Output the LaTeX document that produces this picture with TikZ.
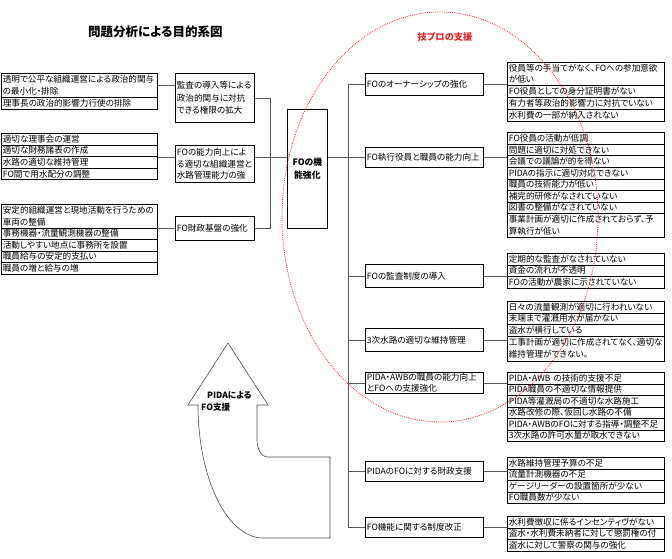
\documentclass[tikz,border=0pt]{standalone}
\usepackage{fontspec}
\setmainfont[RawFeature=+palt]{Noto Sans CJK JP}
\newcommand\boxfont{\fontsize{8.6}{11.6}\selectfont}
\definecolor{ellred}{HTML}{E8242A}
\tikzset{
  box/.style={draw=black, line width=0.7pt, anchor=north west, inner xsep=1.5pt, inner ysep=0pt, align=left, font=\boxfont},
  litem/.style={box, text width=153pt, minimum height=#1},
  ritem/.style={box, text width=154pt, minimum height=#1},
  mbox/.style={box, text width=76pt, minimum height=#1},
  fobox/.style={box, text width=115pt, minimum height=#1},
  conn/.style={draw=black!65, line width=0.6pt},
  arrowline/.style={draw=black!70, line width=0.6pt}
}
\begin{document}
\begin{tikzpicture}[x=1pt,y=-1pt]
\useasboundingbox (0,0) rectangle (672,559);

% title
\node[anchor=west, inner sep=0pt, font=\fontsize{12.5}{14}\selectfont\bfseries] (title) at (88,32) {問題分析による目的系図};
\node[inner sep=0pt, text=ellred, font=\fontsize{9.2}{11}\selectfont\bfseries] (gipro) at (445,37) {技プロの支援};

% left group 1
\node[litem=24pt] (l1a) at (1,73) {透明で公平な組織運営による政治的関与\\の最小化・排除};
\node[litem=12pt] (l1b) at (1,97) {理事長の政治的影響力行使の排除};
% left group 2
\node[litem=11.6pt] (l2a) at (1,133) {適切な理事会の運営};
\node[litem=11.6pt] (l2b) at (1,144.6) {適切な財務諸表の作成};
\node[litem=11.6pt] (l2c) at (1,156.2) {水路の適切な維持管理};
\node[litem=11.6pt] (l2d) at (1,167.8) {FO間で用水配分の調整};
% left group 3
\node[litem=23.5pt] (l3a) at (1,204) {安定的組織運営と現地活動を行うための\\車両の整備};
\node[litem=11.5pt] (l3b) at (1,227.5) {事務機器・流量観測機器の整備};
\node[litem=11.5pt] (l3c) at (1,239) {活動しやすい地点に事務所を設置};
\node[litem=11.5pt] (l3d) at (1,250.5) {職員給与の安定的支払い};
\node[litem=11.5pt] (l3e) at (1,262) {職員の増と給与の増};

% middle boxes
\node[mbox=49pt, font=\fontsize{8.6}{12.5}\selectfont] (m1) at (175,73) {監査の導入等による\\政治的関与に対抗\\できる権限の拡大};
\node[mbox=37pt] (m2) at (175,145) {FOの能力向上によ\\る適切な組織運営と\\水路管理能力の強};
\node[mbox=24pt] (m3) at (175,216) {FO財政基盤の強化};

% hub
\node[box, align=center, text width=37pt, minimum height=119pt, font=\fontsize{8.8}{12.5}\selectfont\bfseries] (hub) at (287,109) {FOの機\\能強化};

% FO boxes
\node[fobox=22pt] (fo1) at (365,73) {FOのオーナーシップの強化};
\node[fobox=20pt] (fo2) at (365,147) {FO執行役員と職員の能力向上};
\node[fobox=23pt] (fo3) at (365,264) {FOの監査制度の導入};
\node[fobox=23pt] (fo4) at (365,328) {3次水路の適切な維持管理};
\node[fobox=21pt, font=\fontsize{8.6}{10.5}\selectfont] (fo5) at (365,372) {PIDA・AWBの職員の能力向上\\とFOへの支援強化};
\node[fobox=20pt] (fo6) at (365,461) {PIDAのFOに対する財政支援};
\node[fobox=20pt] (fo7) at (365,517) {FO機能に関する制度改正};

% right group 1
\node[ritem=23pt] (r1a) at (507,62) {役員等の手当てがなく、FOへの参加意欲\\が低い};
\node[ritem=12pt] (r1b) at (507,85) {FO役員としての身分証明書がない};
\node[ritem=12pt] (r1c) at (507,97) {有力者等政治的影響力に対抗でいない};
\node[ritem=12pt] (r1d) at (507,109) {水利費の一部が納入されない};
% right group 2
\node[ritem=11.5pt] (r2a) at (507,132.5) {FO役員の活動が低調};
\node[ritem=11.5pt] (r2b) at (507,144) {問題に適切に対処できない};
\node[ritem=11.5pt] (r2c) at (507,155.5) {会議での議論が的を得ない};
\node[ritem=11.5pt] (r2d) at (507,167) {PIDAの指示に適切対応できない};
\node[ritem=11.5pt] (r2e) at (507,178.5) {職員の技術能力が低い};
\node[ritem=11.5pt] (r2f) at (507,190) {補完的研修がなされていない};
\node[ritem=11.5pt] (r2g) at (507,201.5) {図書の整備がなされていない};
\node[ritem=24pt] (r2h) at (507,213) {事業計画が適切に作成されておらず、予\\算執行が低い};
% right group 3
\node[ritem=11.5pt] (r3a) at (507,253) {定期的な監査がなされていない};
\node[ritem=11.5pt] (r3b) at (507,264.5) {資金の流れが不透明};
\node[ritem=11.5pt] (r3c) at (507,276) {FOの活動が農家に示されていない};
% right group 4
\node[ritem=11.5pt] (r4a) at (507,301) {日々の流量観測が適切に行われいない};
\node[ritem=11.5pt] (r4b) at (507,312.5) {末端まで灌漑用水が届かない};
\node[ritem=11.5pt] (r4c) at (507,324) {盗水が横行している};
\node[ritem=25pt] (r4d) at (507,335.5) {工事計画が適切に作成されてなく、適切な\\維持管理ができない。};
% right group 5
\node[ritem=11.5pt] (r5a) at (507,372) {PIDA・AWB の技術的支援不足};
\node[ritem=11.5pt] (r5b) at (507,383.5) {PIDA職員の不適切な情報提供};
\node[ritem=11.5pt] (r5c) at (507,395) {PIDA等灌漑局の不適切な水路施工};
\node[ritem=11.5pt] (r5d) at (507,406.5) {水路改修の際、仮回し水路の不備};
\node[ritem=11.5pt] (r5e) at (507,418) {PIDA・AWBのFOに対する指導・調整不足};
\node[ritem=11.5pt] (r5f) at (507,429.5) {3次水路の許可水量が取水できない};
% right group 6
\node[ritem=11.5pt] (r6a) at (507,457) {水路維持管理予算の不足};
\node[ritem=11.5pt] (r6b) at (507,468.5) {流量計測機器の不足};
\node[ritem=11.5pt] (r6c) at (507,480) {ゲージリーダーの設置箇所が少ない};
\node[ritem=11.5pt] (r6d) at (507,491.5) {FO職員数が少ない};
% right group 7
\node[ritem=11.5pt] (r7a) at (507,516) {水利費徴収に係るインセンティヴがない};
\node[ritem=11.5pt] (r7b) at (507,527.5) {盗水・水利費未納者に対して懲罰権の付};
\node[ritem=11.5pt] (r7c) at (507,539) {盗水に対して警察の関与の強化};

% connectors left
\draw[conn] (l1a.east) -- (l1a.east -| m1.west);
\draw[conn] (l2b.south east) -- (l2b.south east -| m2.west);
\draw[conn] (l3a.south east) -- (l3a.south east -| m3.west);
\draw[conn] (m1.east) -- ++(16,0) |- (m3.east);
\draw[conn] (l2b.south east -| m2.east) -- (l2b.south east -| hub.west);
% hub to spine
\draw[conn] (fo2.west -| hub.east) -- (fo2.west);
\draw[conn] (fo1.west) -- ++(-17,0) coordinate (vt) |- (fo7.west);
\draw[conn] (fo3.west) -- (fo3.west -| vt);
\draw[conn] (fo4.west) -- (fo4.west -| vt);
\draw[conn] (fo5.west) -- (fo5.west -| vt);
\draw[conn] (fo6.west) -- (fo6.west -| vt);
% FO boxes to right groups
\draw[conn] (fo1.east) -- (fo1.east -| r1a.west);
\draw[conn] (fo2.east) -- (fo2.east -| r2a.west);
\draw[conn] (fo3.east) -- (fo3.east -| r3a.west);
\draw[conn] (fo4.east) -- (fo4.east -| r4a.west);
\draw[conn] (fo5.east) -- (fo5.east -| r5a.west);
\draw[conn] (fo6.east) -- (fo6.east -| r6a.west);
\draw[conn] (fo7.east) -- (fo7.east -| r7a.west);

% bent arrow
\draw[arrowline] (228,343) -- (268,405) -- (257,405) -- (257,440)
  .. controls (257,449) and (261.5,457) .. (267,457) -- (330,457) -- (330,538) -- (263,538)
  .. controls (227,538) and (198,478) .. (198,405) -- (188,405) -- cycle;
\node[anchor=west, inner sep=0pt, align=left, font=\fontsize{8.6}{12.5}\selectfont\bfseries] (arrtxt) at (201,401.5) {\hspace{6pt}PIDAによる\\FO支援};

% red dotted ellipse
\draw[ellred, line width=0.8pt, dash pattern=on 0.8pt off 1.1pt] (440,217) ellipse [x radius=158pt, y radius=205pt];
\end{tikzpicture}
\end{document}
